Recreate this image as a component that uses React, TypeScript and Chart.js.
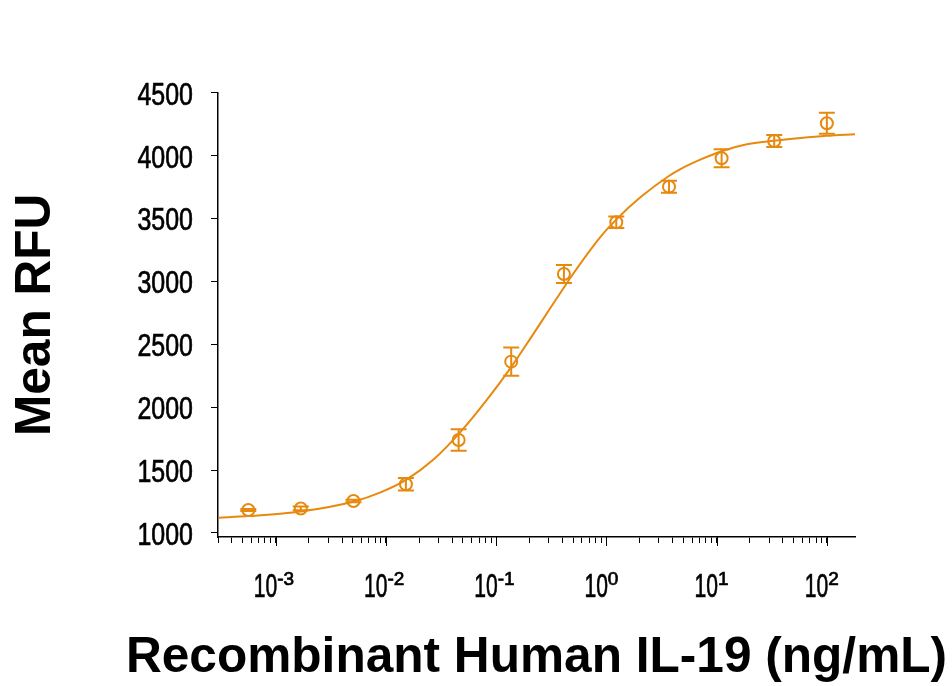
import React, { useEffect, useRef } from "react";
import { Chart, registerables } from "chart.js";

Chart.register(...registerables);

// Three-fold dilution series of IL-19 (ng/mL)
const concentrations = [0.000565, 0.00169, 0.00508, 0.0152, 0.0457, 0.137, 0.412, 1.23, 3.7, 11.1, 33.3, 100];
// Mean RFU at each concentration and its error (±)
const meanRfu = [1183, 1195, 1254, 1387, 1739, 2362, 3059, 3470, 3753, 3979, 4116, 4257];
const errRfu = [8, 15, 10, 50, 85, 112, 72, 46, 48, 72, 47, 83];

// Fitted dose-response curve, sampled along the axis
const curveConc = [0.000305, 0.000565, 0.00168, 0.00512, 0.00905, 0.01524, 0.02754, 0.0471, 0.081, 0.1384, 0.207, 0.302, 0.415, 0.477, 0.892, 1.248, 2.06, 3.69, 4.74, 7.2, 11.1, 18.4, 32.9, 58.1, 99.3, 180];
const curveRfu = [1121, 1134, 1170, 1250, 1325, 1422, 1590, 1800, 2050, 2325, 2553, 2772, 2955, 3035, 3358, 3497, 3672, 3838, 3895, 3970, 4035, 4088, 4118, 4140, 4157, 4170];

// Axis ticks
const yTicks = [1000, 1500, 2000, 2500, 3000, 3500, 4000, 4500];
const xTickExponents = [-3, -2, -1, 0, 1, 2];

const xTitle = "Recombinant Human IL-19 (ng/mL)";
const yTitle = "Mean RFU";

const ORANGE = "#e8890f";
const SANS = "'Liberation Sans', Arial, sans-serif";
const BOLD = `bold 49.6px ${SANS}`;

// Draws text squeezed horizontally to give a condensed face
function drawCondensed(ctx: CanvasRenderingContext2D, text: string, x: number, y: number, size: number, sx: number, align: CanvasTextAlign) {
  ctx.save();
  ctx.translate(x, y);
  ctx.scale(sx, 1);
  ctx.font = `${size}px ${SANS}`;
  ctx.textAlign = align;
  ctx.textBaseline = "alphabetic";
  ctx.fillText(text, 0, 0);
  ctx.strokeStyle = "#000";
  ctx.lineWidth = 0.7;
  ctx.strokeText(text, 0, 0);
  ctx.restore();
}

const decorations = {
  id: "decorations",
  afterDatasetsDraw(chart: any) {
    const { ctx } = chart;
    const x = chart.scales.x;
    const y = chart.scales.y;
    ctx.save();
    ctx.strokeStyle = ORANGE;
    ctx.lineWidth = 2;
    concentrations.forEach((c, i) => {
      const px = x.getPixelForValue(c);
      const top = y.getPixelForValue(meanRfu[i] + errRfu[i]);
      const bot = y.getPixelForValue(meanRfu[i] - errRfu[i]);
      ctx.beginPath();
      ctx.moveTo(px, top);
      ctx.lineTo(px, bot);
      ctx.moveTo(px - 8, top);
      ctx.lineTo(px + 8, top);
      ctx.moveTo(px - 8, bot);
      ctx.lineTo(px + 8, bot);
      ctx.stroke();
    });
    ctx.restore();
  },
  afterDraw(chart: any) {
    const { ctx, chartArea } = chart;
    const x = chart.scales.x;
    const y = chart.scales.y;
    ctx.save();
    // longer marks at the decades
    ctx.strokeStyle = "#000";
    ctx.lineWidth = 1;
    xTickExponents.forEach((k) => {
      const px = Math.round(x.getPixelForValue(Math.pow(10, k))) + 0.5;
      ctx.beginPath();
      ctx.moveTo(px, chartArea.bottom);
      ctx.lineTo(px, chartArea.bottom + 9);
      ctx.stroke();
    });
    ctx.fillStyle = "#000";
    // y tick labels
    yTicks.forEach((v) => {
      const py = y.getPixelForValue(v);
      drawCondensed(ctx, String(v), chartArea.left - 25, py + 12, 32, 0.78, "right");
    });
    // decade labels with superscript exponents
    xTickExponents.forEach((k) => {
      const px = x.getPixelForValue(Math.pow(10, k));
      drawCondensed(ctx, "10", px + 1.5, chartArea.bottom + 60, 33, 0.64, "right");
      drawCondensed(ctx, String(k), px + 1.5, chartArea.bottom + 48, 19, 1, "left");
    });
    // axis titles
    ctx.font = BOLD;
    ctx.textAlign = "center";
    ctx.textBaseline = "alphabetic";
    ctx.fillText(xTitle, (chartArea.left + chartArea.right) / 2, 672);
    ctx.translate(50, (chartArea.top + chartArea.bottom) / 2);
    ctx.rotate(-Math.PI / 2);
    ctx.fillText(yTitle, 0, 0);
    ctx.restore();
  },
};

export default function App() {
  const canvasRef = useRef<HTMLCanvasElement | null>(null);

  useEffect(() => {
    const canvas = canvasRef.current;
    if (!canvas) return;
    const chart = new Chart(canvas, {
      type: "scatter",
      data: {
        datasets: [
          {
            type: "line",
            data: curveConc.map((c, i) => ({ x: c, y: curveRfu[i] })),
            borderColor: ORANGE,
            borderWidth: 2,
            pointRadius: 0,
            cubicInterpolationMode: "monotone",
            fill: false,
            order: 2,
          } as any,
          {
            type: "scatter",
            data: concentrations.map((c, i) => ({ x: c, y: meanRfu[i] })),
            pointStyle: "circle",
            pointRadius: 6,
            borderWidth: 2,
            borderColor: ORANGE,
            backgroundColor: "rgba(0,0,0,0)",
            order: 1,
          },
        ],
      },
      options: {
        responsive: false,
        animation: false,
        devicePixelRatio: 1,
        layout: { padding: { left: 0, top: 92.7, right: 97, bottom: 0 } },
        plugins: { legend: { display: false }, tooltip: { enabled: false } },
        scales: {
          x: {
            type: "logarithmic",
            min: 0.000305,
            max: 180,
            border: { display: true, color: "#000", width: 1.5 },
            grid: { display: true, drawOnChartArea: false, drawTicks: true, tickLength: 6, color: "#000", tickColor: "#000" },
            ticks: { autoSkip: false, maxRotation: 0, callback: () => "" },
            afterBuildTicks: (scale: any) => {
              scale.ticks = scale.ticks.filter((t: any) => {
                const e = Math.floor(Math.log10(t.value) + 1e-9);
                const m = t.value / Math.pow(10, e);
                return Math.abs(m - Math.round(m)) < 1e-6;
              });
            },
            afterFit: (scale: any) => {
              scale.height = 149;
            },
          },
          y: {
            type: "linear",
            min: 968,
            max: 4500,
            border: { display: true, color: "#000", width: 1.5 },
            grid: { display: true, drawOnChartArea: false, drawTicks: true, tickLength: 7, color: "#000", tickColor: "#000" },
            ticks: { display: false },
            afterBuildTicks: (scale: any) => {
              scale.ticks = yTicks.map((v) => ({ value: v }));
            },
            afterFit: (scale: any) => {
              scale.width = 218;
            },
          },
        },
      },
      plugins: [decorations],
    });
    return () => chart.destroy();
  }, []);

  return (
    <div style={{ position: "absolute", left: 0, top: 0, width: 952, height: 686, background: "#fff" }}>
      <canvas ref={canvasRef} width={952} height={686} />
    </div>
  );
}
